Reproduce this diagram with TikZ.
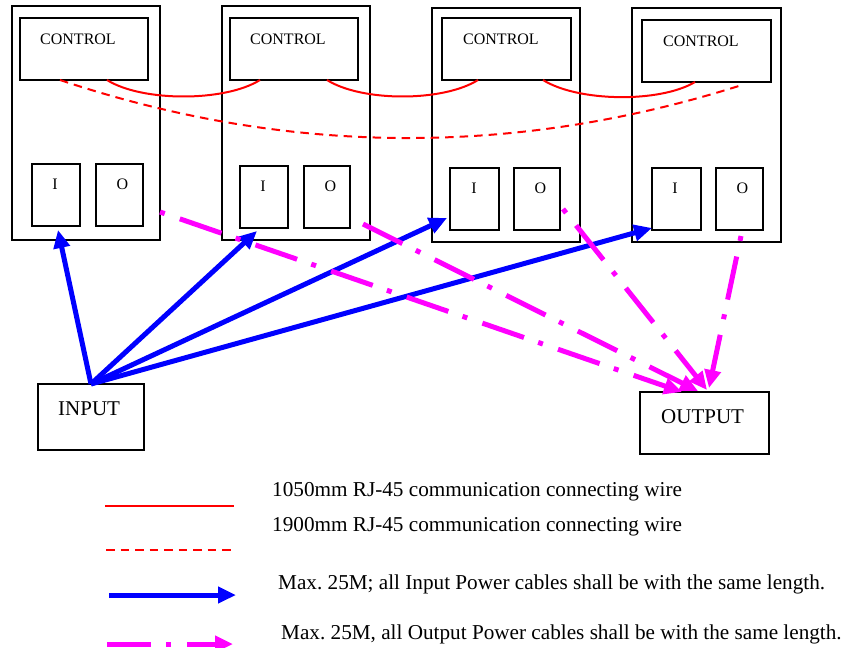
\documentclass[tikz,border=0pt]{standalone}
\usepackage{fontspec}
\setmainfont{Liberation Serif}
\usetikzlibrary{arrows.meta,calc}
\definecolor{pmag}{RGB}{255,0,255}
\definecolor{pblue}{RGB}{0,0,255}
\definecolor{pred}{RGB}{255,0,0}
\frenchspacing
\begin{document}
\begin{tikzpicture}[x=1bp,y=-1bp,
  box/.style={draw=black,line width=1.6bp,inner sep=0,outer sep=0},
  ctext/.style={inner sep=0,anchor=base west,font=\fontsize{16bp}{19bp}\selectfont},
  iotext/.style={inner sep=0,anchor=base,font=\fontsize{16bp}{19bp}\selectfont},
  bigtext/.style={inner sep=0,anchor=base west,font=\fontsize{21bp}{25bp}\selectfont},
  legtext/.style={inner sep=0,anchor=base west,font=\fontsize{21.2bp}{25bp}\selectfont},
  wire/.style={pred,line width=2bp},
  longwire/.style={pred,line width=2bp,dash pattern=on 8.5bp off 6bp},
  inarrow/.style={pblue,line width=5bp,-{Triangle[length=18bp,width=16bp]}},
  outarrow/.style={pmag,line width=5bp,-{Triangle[length=18bp,width=16bp]}},
  dotfirst/.style={dash pattern=on 5bp off 16bp on 44bp off 15bp},
  dashfirst/.style={dash pattern=on 44bp off 15bp on 5bp off 16bp}]
\useasboundingbox (0,0) rectangle (843,648);
\fill[white] (0,0) rectangle (843,648);

% modules
\node[box,minimum width=148bp,minimum height=234bp] (m1) at (86,123) {};
\node[box,minimum width=148bp,minimum height=234bp] (m2) at (296,123) {};
\node[box,minimum width=148bp,minimum height=234bp] (m3) at (506,125) {};
\node[box,minimum width=149bp,minimum height=234bp] (m4) at (706.5,125) {};

% control boxes
\node[box,minimum width=128bp,minimum height=62bp] (c1) at (84,49) {};
\node[box,minimum width=128bp,minimum height=62bp] (c2) at (294,49) {};
\node[box,minimum width=129bp,minimum height=62bp] (c3) at (506.5,49) {};
\node[box,minimum width=129bp,minimum height=62bp] (c4) at (706.5,51) {};
\node[ctext] (t1) at (40,44.3) {CONTROL};
\node[ctext] (t2) at (250,44.3) {CONTROL};
\node[ctext] (t3) at (463,44.3) {CONTROL};
\node[ctext] (t4) at (663,46.7) {CONTROL};

% I/O boxes
\node[box,minimum width=48bp,minimum height=62bp] (i1) at (56,195) {};
\node[box,minimum width=47bp,minimum height=62bp] (o1) at (119.5,195) {};
\node[box,minimum width=48bp,minimum height=62bp] (i2) at (264,197) {};
\node[box,minimum width=46bp,minimum height=62bp] (o2) at (327,197) {};
\node[box,minimum width=49bp,minimum height=62bp] (i3) at (474.5,199) {};
\node[box,minimum width=46bp,minimum height=62bp] (o3) at (537,199) {};
\node[box,minimum width=49bp,minimum height=62bp] (i4) at (676.5,199) {};
\node[box,minimum width=47bp,minimum height=62bp] (o4) at (739.5,199) {};
\node[iotext] (li1) at (55,190) {I};
\node[iotext] (lo1) at (122.5,190) {O};
\node[iotext] (li2) at (263,192) {I};
\node[iotext] (lo2) at (330.5,192) {O};
\node[iotext] (li3) at (474,194) {I};
\node[iotext] (lo3) at (540.5,194) {O};
\node[iotext] (li4) at (675,194) {I};
\node[iotext] (lo4) at (742.5,194) {O};

% input / output
\node[box,minimum width=106bp,minimum height=66bp] (inp) at (91,417) {};
\node[box,minimum width=129bp,minimum height=62bp] (out) at (704.5,423) {};
\node[bigtext] (tin) at (58,415) {INPUT};
\node[bigtext] (tout) at (661,423) {OUTPUT};

% communication wires
\draw[wire] ($(c1.south west)+(87,0)$) .. controls +(35,22) and +(-35,22) .. ($(c2.south west)+(30,0)$);
\draw[wire] ($(c2.south west)+(97,0)$) .. controls +(35,22) and +(-35,22) .. ($(c3.south west)+(36,0)$);
\draw[wire] ($(c3.south west)+(101,0)$) .. controls +(35,22) and +(-35,21) .. ($(c4.south west)+(53,0)$);
\draw[longwire] ($(c1.south west)+(40,0)$) .. controls +(226.7,75.7) and +(-228,72.3) .. ($(c4.south west)+(100,3)$);

% input power cables
\draw[inarrow] (inp.north) -- ($(i1.south)+(2,4)$);
\draw[inarrow] (inp.north) -- ($(i2.south west)+(17,3)$);
\draw[inarrow] (inp.north) -- ($(i3.south west)+(-3,-12)$);
\draw[inarrow] (inp.north) -- ($(i4.south west)+(0,-2)$);

% output power cables
\draw[outarrow,dotfirst] ($(o1.east)+(17,17)$) -- ($(out.north west)+(42,0)$);
\draw[outarrow,dashfirst] ($(o2.south east)+(13,-4)$) -- ($(out.north west)+(58,-1)$);
\draw[outarrow,dotfirst] ($(o3.south east)+(3,-21)$) -- ($(out.north west)+(67,-2)$);
\draw[outarrow,dotfirst] ($(o4.south)+(1.5,6)$) -- ($(out.north west)+(69,-4)$);

% legend
\coordinate (l1a) at (105,506); \coordinate (l1b) at (234,506);
\coordinate (l2a) at (106,550); \coordinate (l2b) at (236,550);
\coordinate (l3a) at (109,595); \coordinate (l3b) at (236,595);
\coordinate (l4a) at (107,644); \coordinate (l4b) at (233,644);
\draw[wire] (l1a) -- (l1b);
\draw[longwire] (l2a) -- (l2b);
\draw[inarrow] (l3a) -- (l3b);
\draw[outarrow,dashfirst] (l4a) -- (l4b);
\node[legtext] (g1) at (272,496.5) {1050mm RJ-45 communication connecting wire};
\node[legtext] (g2) at (272,531.5) {1900mm RJ-45 communication connecting wire};
\node[legtext] (g3) at (278,589) {Max. 25M; all Input Power cables shall be with the same length.};
\node[legtext] (g4) at (281,639) {Max. 25M, all Output Power cables shall be with the same length.};
\end{tikzpicture}
\end{document}
